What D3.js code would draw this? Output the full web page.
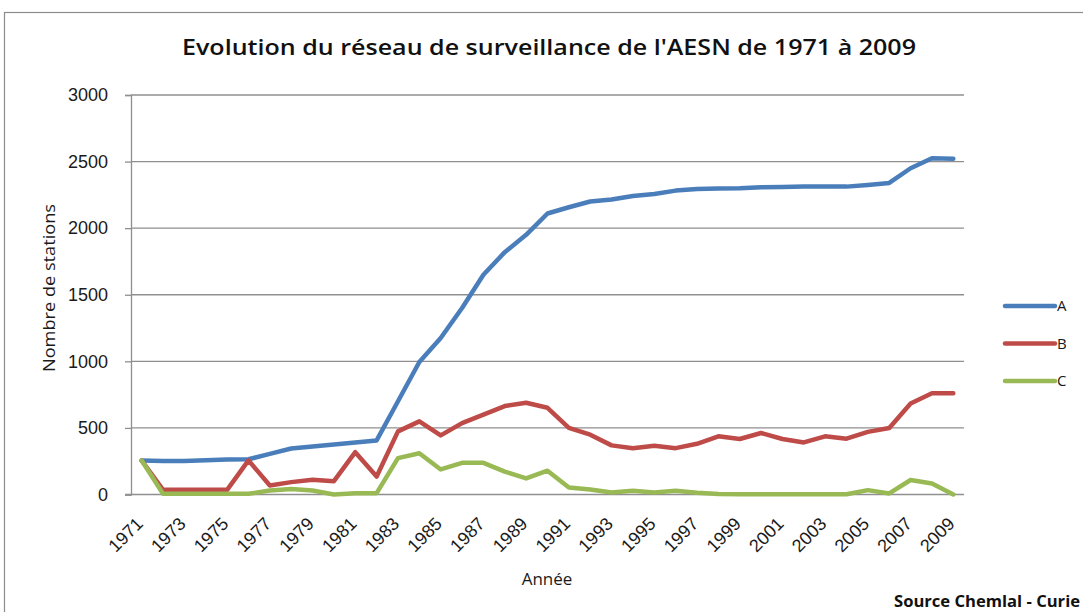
<!DOCTYPE html>
<html>
<head>
<meta charset="utf-8">
<script src="https://cdn.jsdelivr.net/npm/d3@7"></script>
<style>
    body { margin: 0; background: #fff; }
    svg { display: block; font-family: 'Open Sans', sans-serif; }
</style>
</head>
<body>
<script>
// =======================DATA================================
const years = d3.range(1971, 2010)
const tickYears = years.filter((d, i) => i % 2 === 0)
const yTicks = [0, 500, 1000, 1500, 2000, 2500, 3000]
const seriesNames = ['A', 'B', 'C']

const valuesA = [255, 252, 252, 258, 262, 265, 305, 345, 360, 376, 391, 406, 700, 995, 1175, 1400, 1650, 1820, 1950, 2110, 2157, 2200, 2215, 2242, 2257, 2282, 2295, 2297, 2300, 2307, 2310, 2312, 2312, 2312, 2325, 2340, 2450, 2525, 2522]
const valuesB = [255, 35, 35, 35, 35, 256, 68, 93, 110, 100, 318, 135, 474, 549, 444, 536, 600, 664, 689, 651, 500, 449, 369, 348, 366, 348, 381, 437, 417, 462, 417, 391, 437, 419, 470, 500, 684, 760, 760]
const valuesC = [255, 5, 5, 5, 5, 5, 30, 42, 30, 0, 10, 10, 273, 310, 188, 238, 238, 172, 121, 179, 53, 38, 15, 28, 15, 28, 13, 3, 2, 2, 2, 2, 2, 2, 33, 8, 109, 83, 0]

const colors = ['#4A7EBB', '#BE4B48', '#98B954']

const width = 1083, height = 612
const plot = { left: 131, right: 964, top: 95, bottom: 494.5 }

const svg = d3.select('body').append('svg')
    .attr('width', width)
    .attr('height', height)

// chart frame
svg.append('rect')
    .attr('x', 4.5)
    .attr('y', 12.5)
    .attr('width', 1100)
    .attr('height', 620)
    .attr('fill', 'none')
    .attr('stroke', '#8c8c8c')
    .attr('stroke-width', 1.2)

const x = d3.scaleBand()
    .domain(years)
    .range([plot.left, plot.right])

const y = d3.scaleLinear()
    .domain([0, 3000])
    .range([plot.bottom, plot.top])

const cx = (d) => x(d) + x.bandwidth() / 2

// gridlines
svg.append('g')
    .selectAll('line')
    .data(yTicks.slice(1))
    .enter().append('line')
    .attr('x1', plot.left)
    .attr('x2', plot.right)
    .attr('y1', d => y(d))
    .attr('y2', d => y(d))
    .attr('stroke', '#8f8f8f')
    .attr('stroke-width', 1.3)

// y axis
const yAxis = svg.append('g')
    .attr('transform', 'translate(' + plot.left + ',0)')
    .call(d3.axisLeft(y).tickValues(yTicks).tickSize(6).tickPadding(17).tickFormat(d3.format('d')))
yAxis.selectAll('.domain, .tick line').attr('stroke', '#8f8f8f').attr('stroke-width', 1.3)
yAxis.selectAll('.tick text')
    .attr('fill', '#1a1a1a')
    .style('font-size', '18px')

// x axis
const xAxis = svg.append('g')
    .attr('transform', 'translate(0,' + plot.bottom + ')')
    .call(d3.axisBottom(x).tickValues(tickYears).tickSize(0).tickFormat(d3.format('d')))
xAxis.select('.domain')
    .attr('d', 'M' + (plot.left - 6) + ',0H' + plot.right)
    .attr('stroke', '#8f8f8f')
    .attr('stroke-width', 1.3)
xAxis.selectAll('.tick text')
    .attr('fill', '#1a1a1a')
    .style('font-size', '18px')
    .attr('text-anchor', 'end')
    .attr('y', 0)
    .attr('dy', '0.35em')
    .attr('transform', 'translate(-2,26) rotate(-45)')

// lines
const line = d3.line()
    .x((d, i) => cx(years[i]))
    .y(d => y(d))

const allSeries = [valuesA, valuesB, valuesC]

svg.append('g')
    .selectAll('path')
    .data(allSeries)
    .enter().append('path')
    .attr('d', d => line(d))
    .attr('fill', 'none')
    .attr('stroke', (d, i) => colors[i])
    .attr('stroke-width', 4.5)
    .attr('stroke-linejoin', 'round')
    .attr('stroke-linecap', 'round')

// legend
const legend = svg.append('g')
    .attr('transform', 'translate(1005,306)')

legend.selectAll('line')
    .data(seriesNames)
    .enter().append('line')
    .attr('x1', 0)
    .attr('x2', 50)
    .attr('y1', (d, i) => i * 37.5)
    .attr('y2', (d, i) => i * 37.5)
    .attr('stroke', (d, i) => colors[i])
    .attr('stroke-width', 4.5)
    .attr('stroke-linecap', 'round')

legend.selectAll('text')
    .data(seriesNames)
    .enter().append('text')
    .text(d => d)
    .attr('x', 52)
    .attr('y', (d, i) => i * 37.5)
    .attr('dy', '0.35em')
    .attr('fill', '#1a1a1a')
    .style('font-size', '15px')

// titles
svg.append('text')
    .text("Evolution du réseau de surveillance de l'AESN de 1971 à 2009")
    .attr('x', 549)
    .attr('y', 55)
    .attr('text-anchor', 'middle')
    .attr('textLength', 734)
    .attr('lengthAdjust', 'spacingAndGlyphs')
    .attr('fill', '#111')
    .style('font-weight', '600')
    .style('font-size', '22px')

svg.append('text')
    .text('Nombre de stations')
    .attr('transform', 'translate(55,288) rotate(-90)')
    .attr('text-anchor', 'middle')
    .attr('textLength', 168)
    .attr('lengthAdjust', 'spacingAndGlyphs')
    .attr('fill', '#1a1a1a')
    .style('font-size', '17px')

svg.append('text')
    .text('Année')
    .attr('x', 547)
    .attr('y', 585)
    .attr('text-anchor', 'middle')
    .attr('fill', '#1a1a1a')
    .style('font-size', '17px')

svg.append('text')
    .text('Source Chemlal - Curie')
    .attr('x', 1080)
    .attr('y', 607)
    .attr('text-anchor', 'end')
    .attr('textLength', 186)
    .attr('lengthAdjust', 'spacingAndGlyphs')
    .attr('fill', '#111')
    .style('font-weight', 'bold')
    .style('font-size', '16px')
</script>
</body>
</html>
